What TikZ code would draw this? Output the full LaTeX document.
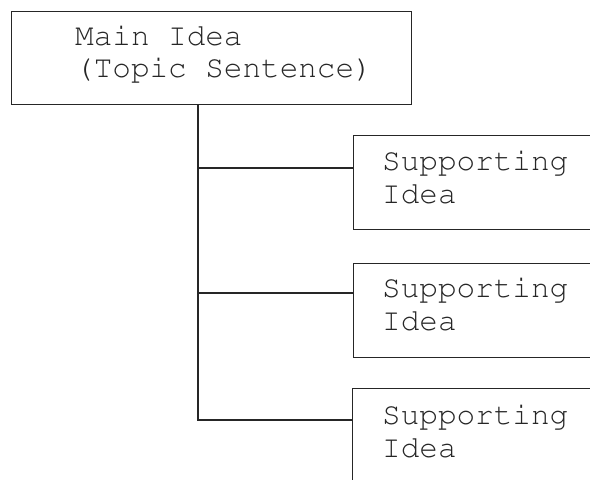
\documentclass[tikz,border=0pt]{standalone}
\usepackage[T1]{fontenc}
\tikzset{
  box/.style={draw=black!85, line width=1.3pt, rectangle, inner sep=0pt, anchor=north west},
  link/.style={draw=black!85, line width=1.3pt},
  txt/.style={anchor=base west, inner sep=0pt, font=\fontfamily{pcr}\fontsize{31pt}{33pt}\selectfont, text=black!85}
}
\begin{document}
\begin{tikzpicture}[x=1pt, y=-1pt]
  \useasboundingbox (0,0) rectangle (590,480);
  \fill[white] (0,0) rectangle (590,480);
  \clip (0,0) rectangle (590,480);

  % boxes
  \node[box, minimum width=400pt, minimum height=93pt] (main) at (11,11) {};
  \node[box, minimum width=270pt, minimum height=94pt] (sup1) at (353,135) {};
  \node[box, minimum width=270pt, minimum height=94pt] (sup2) at (353,263) {};
  \node[box, minimum width=270pt, minimum height=130pt] (sup3) at (352,388) {};

  % labels
  \node[txt] (m1) at (75,45) {Main Idea};
  \node[txt] (m2) at (75,77) {(Topic Sentence)};
  \node[txt] (a1) at (382,170) {Supporting};
  \node[txt] (a2) at (382,203) {Idea};
  \node[txt] (b1) at (382,297) {Supporting};
  \node[txt] (b2) at (382,330) {Idea};
  \node[txt] (c1) at (382,424) {Supporting};
  \node[txt] (c2) at (382,457) {Idea};

  % junction points on the left edges of the boxes
  \coordinate (j1) at (sup1.north west |- 0,168);
  \coordinate (j2) at (sup2.north west |- 0,293);
  \coordinate (j3) at (sup3.north west |- 0,420);
  \path (main.south west) ++(187,0) coordinate (top);

  % connectors
  \draw[link] (top) |- (j3);
  \draw[link] (top |- j1) -- (j1);
  \draw[link] (top |- j2) -- (j2);
\end{tikzpicture}
\end{document}
